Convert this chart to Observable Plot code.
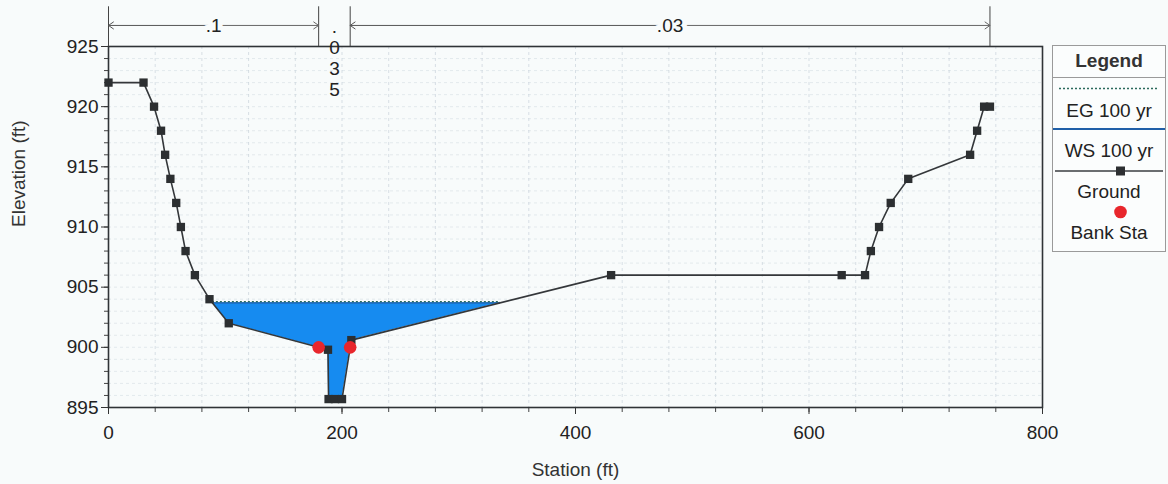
<!DOCTYPE html>
<html>
<head>
<meta charset="utf-8">
<script src="https://cdn.jsdelivr.net/npm/d3@7"></script>
<script src="https://cdn.jsdelivr.net/npm/@observablehq/plot@0.6"></script>
<style>
  html, body { margin: 0; padding: 0; background: #f8fbfb; }
  #wrap { position: relative; width: 1168px; height: 484px; font-family: "Liberation Sans", Arial, sans-serif; }
  #legend { position: absolute; left: 1052px; top: 45px; width: 114px; height: 207px; border: 1px solid #9a9a9a; background: #fbfdfd; box-sizing: border-box; }
</style>
</head>
<body>
<div id="wrap"></div>
<script>
// ---- data ----
const groundStation = [0, 30, 39, 45, 48.5, 53, 58, 62, 66, 74, 86.5, 103, 188, 188.5, 194, 200, 208, 430.5, 628, 648, 653, 660, 670, 685, 738, 744, 750, 755];
const groundElev    = [922, 922, 920, 918, 916, 914, 912, 910, 908, 906, 904, 902, 899.8, 895.7, 895.7, 895.7, 900.6, 906, 906, 906, 908, 910, 912, 914, 916, 918, 920, 920];
const bankStation = [180, 207];
const bankElev = [900, 900];
const wsElev = 903.7;   // WS 100 yr
const egElev = 903.8;   // EG 100 yr
const nStations = [0, 180, 207, 755];
const nValues = [".1", ".035", ".03"];
const xMajorTicks = [0, 200, 400, 600, 800];
const yMajorTicks = [895, 900, 905, 910, 915, 920, 925];
const legendLabels = ["EG 100 yr", "WS 100 yr", "Ground", "Bank Sta"];

// ---- derived tables ----
const ground = groundStation.map((x, i) => ({x, y: groundElev[i]}));
const banks = bankStation.map((x, i) => ({x, y: bankElev[i]}));

// water polygon: ground below WS, clipped at crossings
const water = [];
for (let i = 0; i < ground.length; i++) {
  const a = ground[i];
  if (a.y < wsElev) water.push({x: a.x, y: a.y});
  if (i < ground.length - 1) {
    const b = ground[i + 1];
    if ((a.y - wsElev) * (b.y - wsElev) < 0) {
      const t = (wsElev - a.y) / (b.y - a.y);
      water.push({x: a.x + t * (b.x - a.x), y: wsElev});
    }
  }
}
const wLeft = d3.min(water, d => d.x), wRight = d3.max(water, d => d.x);

// n-value annotation segments
const nSegs = nValues.map((v, i) => ({x1: nStations[i], x2: nStations[i + 1], mid: (nStations[i] + nStations[i + 1]) / 2, label: v}));
const wideSegs = nSegs.filter(d => d.x2 - d.x1 > 60);
const narrowSegs = nSegs.filter(d => d.x2 - d.x1 <= 60).map(d => ({...d, label: d.label.split("").join("\n")}));
const arrowY = 926.75;

const font = "'Liberation Sans', Arial, sans-serif";
const FS = 19;

const chart = Plot.plot({
  width: 1168,
  height: 484,
  marginLeft: 108,
  marginRight: 126,
  marginTop: 46,
  marginBottom: 77,
  style: {background: "#f8fbfb", fontFamily: font, fontSize: FS + "px", color: "#222", overflow: "visible"},
  x: {domain: [0, 800]},
  y: {domain: [895, 925]},
  marks: [
    Plot.gridY({ticks: d3.range(896, 925, 1), stroke: "#cfd9df", strokeOpacity: 0.5, strokeDasharray: "3,3"}),
    Plot.gridX({ticks: d3.range(40, 800, 40), stroke: "#c5d0d8", strokeOpacity: 0.65, strokeDasharray: "3,3"}),
    // minor ticks
    Plot.axisX({ticks: d3.range(0, 801, 40), tickFormat: () => "", tickSize: 5, stroke: "#444", label: null}),
    Plot.axisY({ticks: d3.range(895, 926, 1), tickFormat: () => "", tickSize: 4, stroke: "#444", label: null}),
    // major ticks + labels
    Plot.axisX({ticks: xMajorTicks, tickSize: 7, tickPadding: 11, fontSize: FS, stroke: "#333", fill: "#222", label: null}),
    Plot.axisY({ticks: yMajorTicks, tickSize: 7, tickPadding: 3, fontSize: FS, stroke: "#333", fill: "#222", label: null}),
    Plot.frame({stroke: "#2f3336", strokeWidth: 1.6}),
    // water
    Plot.areaY(water, {x: "x", y1: "y", y2: () => wsElev, fill: "#168bf0", curve: "linear"}),
    Plot.ruleY([wsElev], {x1: wLeft, x2: wRight, stroke: "#1f5fa8", strokeWidth: 1.2}),
    Plot.ruleY([egElev], {x1: wLeft, x2: wRight, stroke: "#2b6a5c", strokeWidth: 1.3, strokeDasharray: "2,2"}),
    // ground
    Plot.line(ground, {x: "x", y: "y", stroke: "#34373a", strokeWidth: 1.6}),
    Plot.dot(ground, {x: "x", y: "y", symbol: "square", r: 4.7, fill: "#2c2f31", stroke: "none"}),
    // bank stations
    Plot.dot(banks, {x: "x", y: "y", r: 6.3, fill: "#e8262c", stroke: "none"}),
    // n-value annotations
    Plot.ruleX(nStations, {y1: 925, y2: 928.3, stroke: "#444", strokeWidth: 1}),
    Plot.arrow(wideSegs, {x1: "mid", x2: "x1", y1: arrowY, y2: arrowY, stroke: "#555", strokeWidth: 1, headLength: 9, headAngle: 70}),
    Plot.arrow(wideSegs, {x1: "mid", x2: "x2", y1: arrowY, y2: arrowY, stroke: "#666", strokeWidth: 1, headLength: 9, headAngle: 70}),
    Plot.text(wideSegs, {x: "mid", y: arrowY, text: "label", fontSize: FS, fill: "#222", stroke: "#f8fbfb", strokeWidth: 10, paintOrder: "stroke"}),
    Plot.text(narrowSegs, {x: "mid", y: arrowY, text: "label", lineAnchor: "top", dy: -7, lineHeight: 1.1, fontSize: FS, fill: "#222"}),
    // axis titles
    Plot.text(["Elevation (ft)"], {frameAnchor: "left", dx: -90, rotate: -90, fontSize: FS, fill: "#333"}),
    Plot.text(["Station (ft)"], {frameAnchor: "bottom", dy: 68, fontSize: FS, fill: "#333"})
  ]
});

const wrap = document.getElementById("wrap");
wrap.appendChild(chart);

// legend (HTML/SVG box at right)
const lg = document.createElement("div");
lg.id = "legend";
const ns = "http://www.w3.org/2000/svg";
const svg = document.createElementNS(ns, "svg");
svg.setAttribute("width", 112); svg.setAttribute("height", 205);
svg.style.fontFamily = font;
function el(tag, attrs, text) {
  const e = document.createElementNS(ns, tag);
  for (const k in attrs) e.setAttribute(k, attrs[k]);
  if (text) e.textContent = text;
  svg.appendChild(e); return e;
}
el("text", {x: 56, y: 21, "text-anchor": "middle", "font-size": FS, "font-weight": "bold", fill: "#333"}, "Legend");
el("line", {x1: 0, x2: 112, y1: 31.5, y2: 31.5, stroke: "#9a9a9a"});
el("line", {x1: 6, x2: 106, y1: 42.5, y2: 42.5, stroke: "#2b6a5c", "stroke-width": 1.3, "stroke-dasharray": "2,2"});
el("text", {x: 56, y: 71, "text-anchor": "middle", "font-size": FS, fill: "#222"}, legendLabels[0]);
el("line", {x1: 0, x2: 112, y1: 83, y2: 83, stroke: "#1f5fa8", "stroke-width": 1.8});
el("text", {x: 56, y: 111, "text-anchor": "middle", "font-size": FS, fill: "#222"}, legendLabels[1]);
el("line", {x1: 2, x2: 110, y1: 125, y2: 125, stroke: "#3a3d40", "stroke-width": 1.4});
el("rect", {x: 63, y: 120.5, width: 9, height: 9, fill: "#2c2f31"});
el("text", {x: 56, y: 152, "text-anchor": "middle", "font-size": FS, fill: "#222"}, legendLabels[2]);
el("circle", {cx: 67.5, cy: 166, r: 6.3, fill: "#e8262c"});
el("text", {x: 56, y: 193, "text-anchor": "middle", "font-size": FS, fill: "#222"}, legendLabels[3]);
lg.appendChild(svg);
wrap.appendChild(lg);
</script>
</body>
</html>
